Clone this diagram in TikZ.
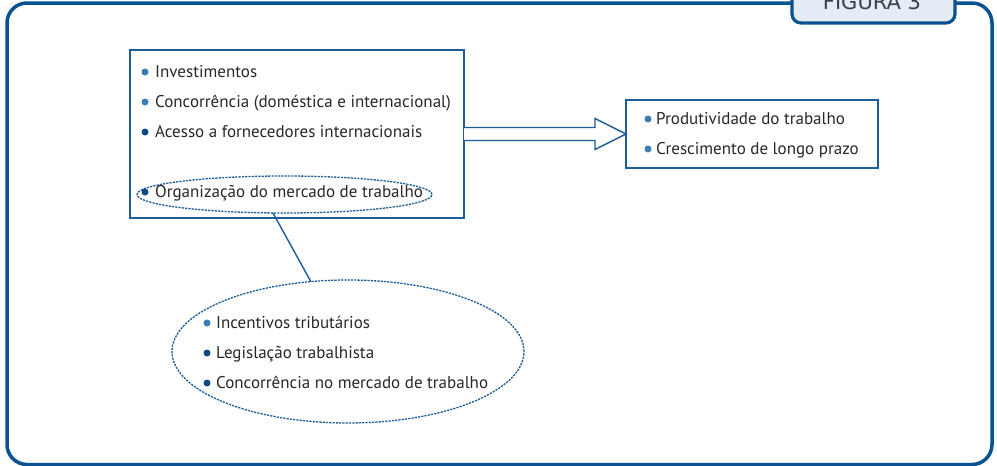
\documentclass[tikz,border=0pt]{standalone}
\usepackage{fontspec}
\setmainfont{PT Sans}
\newfontfamily\tabfont{DejaVu Sans}
\usetikzlibrary{shapes.geometric,calc}
\definecolor{frameblue}{RGB}{10,82,145}
\definecolor{boxblue}{RGB}{28,92,152}
\definecolor{bulA}{RGB}{60,125,180}
\definecolor{bulB}{RGB}{15,75,130}
\definecolor{txt}{RGB}{40,40,40}
\definecolor{tabtxt}{RGB}{55,65,80}
\definecolor{tabfill}{RGB}{230,236,245}
\begin{document}
\begin{tikzpicture}[x=1pt,y=-1pt,
  item/.style={anchor=base west, inner sep=0pt, text=txt, font=\fontsize{17}{20}\selectfont},
  bul/.style={circle, inner sep=0pt, minimum size=7pt, draw=none},
  plainbox/.style={draw=boxblue, line width=1.4pt, fill=white, rectangle, inner sep=0pt, outer sep=0pt},
  dotell/.style={draw=boxblue, ellipse, line width=1.3pt, dash pattern=on 2.2pt off 1.1pt, inner sep=0pt, outer sep=0pt},
  blockarrow/.style={draw=boxblue, line width=1.4pt, fill=white, line join=miter},
  link/.style={draw=boxblue, line width=1.4pt}]
\useasboundingbox (0,0) rectangle (997,466);
\clip (0,0) rectangle (997,466);
\fill[white] (0,0) rectangle (997,466);
% frame
\draw[frameblue, line width=3.5pt, rounded corners=20pt] (7,3) rectangle (992,464.5);
% tab
\draw[frameblue, line width=3.2pt, fill=tabfill, rounded corners=9pt] (792,-20) -- (792,23) -- (955,23) -- (955,-20);
\node[anchor=base, inner sep=0pt, text=tabtxt, font=\tabfont\fontsize{21}{24}\selectfont] (tab) at (872,9) {FIGURA 3};
% main box
\node[plainbox, anchor=north west, minimum width=334pt, minimum height=168pt] (mainbox) at (130,50) {};
% right box
\node[plainbox, anchor=north west, minimum width=252pt, minimum height=68pt] (rbox) at (626,100) {};
% block arrow
\draw[blockarrow] ([yshift=6.5pt]mainbox.east) -- ([xshift=-31pt,yshift=6.5pt]rbox.west) -- ([xshift=-31pt,yshift=15.5pt]rbox.west) -- (rbox.west) -- ([xshift=-31pt,yshift=-15.5pt]rbox.west) -- ([xshift=-31pt,yshift=-6.5pt]rbox.west) -- ([yshift=-6.5pt]mainbox.east);
% small dotted ellipse
\node[dotell, minimum width=295pt, minimum height=37pt] (small) at (284.5,194.5) {};
% big dotted ellipse
\node[dotell, minimum width=352pt, minimum height=143pt] (big) at (348,351.5) {};
\draw[link] (small.238) -- (big.118);
% main box items
\node[bul, fill=bulA] (m1b) at (145,72) {};
\node[item] (m1) at (155,77) {Investimentos};
\node[bul, fill=bulA] (m2b) at (145,102) {};
\node[item] (m2) at (155,107) {Concorrência (doméstica e internacional)};
\node[bul, fill=bulB] (m3b) at (145,132) {};
\node[item] (m3) at (155,137) {Acesso a fornecedores internacionais};
\node[bul, fill=bulB] (m4b) at (145,192) {};
\node[item] (m4) at (155,197) {Organização do mercado de trabalho};
% right box items
\node[bul, fill=bulA] (r1b) at (648,119) {};
\node[item] (r1) at (656,124) {Produtividade do trabalho};
\node[bul, fill=bulA] (r2b) at (648,149) {};
\node[item] (r2) at (656,154) {Crescimento de longo prazo};
% big ellipse items
\node[bul, fill=bulA] (e1b) at (207,323) {};
\node[item] (e1) at (216,328) {Incentivos tributários};
\node[bul, fill=bulB] (e2b) at (207,353) {};
\node[item] (e2) at (216,358) {Legislação trabalhista};
\node[bul, fill=bulB] (e3b) at (207,383) {};
\node[item] (e3) at (216,388) {Concorrência no mercado de trabalho};
\end{tikzpicture}
\end{document}
